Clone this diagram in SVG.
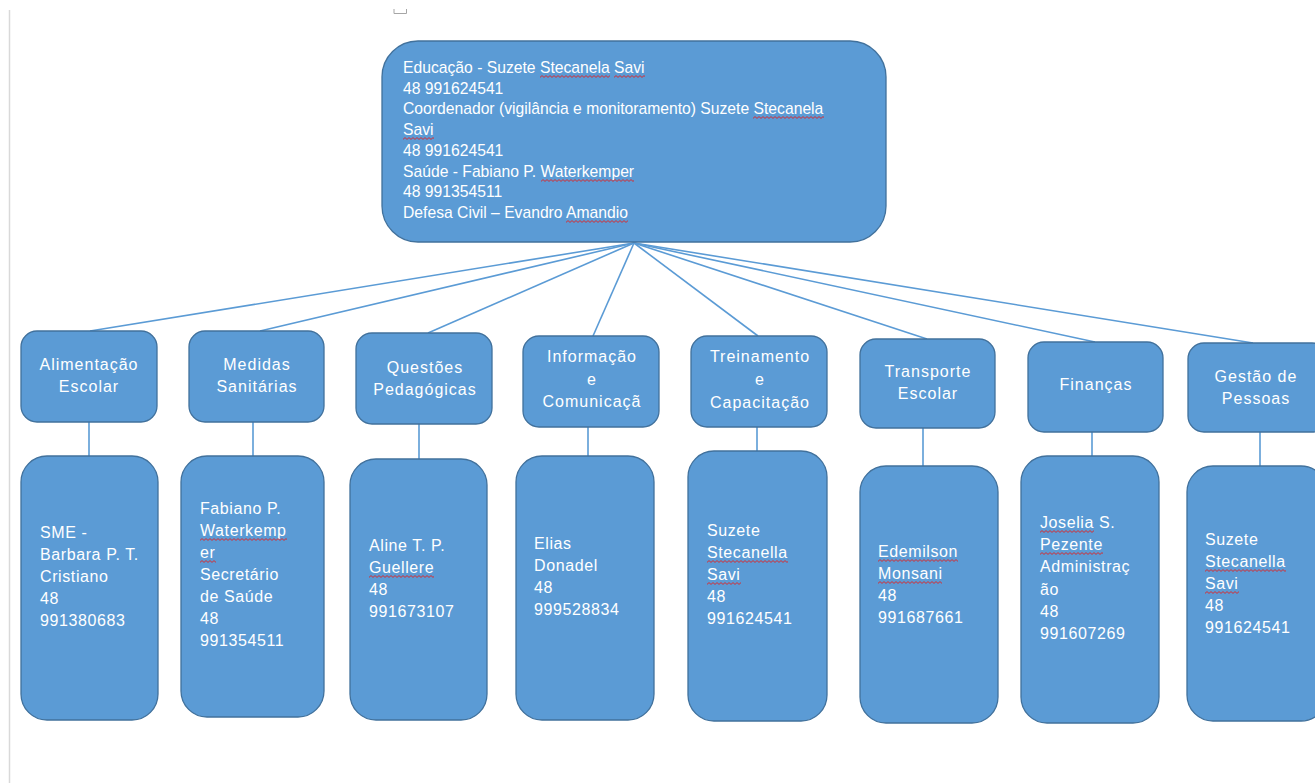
<svg xmlns="http://www.w3.org/2000/svg" width="1315" height="783" viewBox="0 0 1315 783">
<style>
.box{fill:#5b9bd5;stroke:#41719c;stroke-width:1.3}
.con{stroke:#5b9bd5;stroke-width:1.6;fill:none}
.t{font-family:"Liberation Sans",Arial,sans-serif;fill:#ffffff}
.top{font-size:15.7px}
.mid{font-size:16px;letter-spacing:1px;text-anchor:middle}
.bot{font-size:16px;letter-spacing:0.6px}
.sq{fill:url(#wave)}
</style>
<defs>
<pattern id="wave" patternUnits="userSpaceOnUse" width="4" height="3">
<path d="M0 2.4 L2 0.6 L4 2.4" fill="none" stroke="#e02020" stroke-width="0.9"/>
</pattern>
</defs>
<rect width="1315" height="783" fill="#ffffff"/>
<line x1="9.5" y1="10" x2="9.5" y2="783" stroke="#d9d9d9" stroke-width="1.5"/>
<path d="M394 9 V13.5 H406.5 V9" fill="none" stroke="#a6a6a6" stroke-width="1"/>

<g id="connectors">
<line class="con" x1="634" y1="243" x2="90" y2="331"/>
<line class="con" x1="634" y1="243" x2="260" y2="331"/>
<line class="con" x1="634" y1="243" x2="428" y2="333"/>
<line class="con" x1="634" y1="243" x2="593" y2="336"/>
<line class="con" x1="634" y1="243" x2="758" y2="336"/>
<line class="con" x1="634" y1="243" x2="927" y2="339"/>
<line class="con" x1="634" y1="243" x2="1095" y2="342"/>
<line class="con" x1="634" y1="243" x2="1253" y2="343"/>
<line class="con" x1="89" y1="422" x2="89" y2="456"/>
<line class="con" x1="253" y1="422" x2="253" y2="456"/>
<line class="con" x1="419" y1="424" x2="419" y2="459"/>
<line class="con" x1="588" y1="427" x2="588" y2="456"/>
<line class="con" x1="757" y1="427" x2="757" y2="451"/>
<line class="con" x1="923" y1="428" x2="923" y2="466"/>
<line class="con" x1="1092" y1="432" x2="1092" y2="456"/>
<line class="con" x1="1260" y1="432" x2="1260" y2="466"/>
</g>

<g id="root">
<rect class="box" x="382" y="41" width="504" height="201" rx="36" ry="36"/>
<text class="t top" x="403">
<tspan x="403" y="73">Educação - Suzete Stecanela Savi</tspan>
<tspan x="403" y="94">48 991624541</tspan>
<tspan x="403" y="114">Coordenador (vigilância e monitoramento) Suzete Stecanela</tspan>
<tspan x="403" y="135">Savi</tspan>
<tspan x="403" y="156">48 991624541</tspan>
<tspan x="403" y="177">Saúde - Fabiano P. Waterkemper</tspan>
<tspan x="403" y="197">48 991354511</tspan>
<tspan x="403" y="218">Defesa Civil – Evandro Amandio</tspan>
</text>
<rect class="sq" transform="translate(540,75)" width="70" height="3"/>
<rect class="sq" transform="translate(614,75)" width="31" height="3"/>
<rect class="sq" transform="translate(753,116)" width="71" height="3"/>
<rect class="sq" transform="translate(403,137)" width="31" height="3"/>
<rect class="sq" transform="translate(541,179)" width="93" height="3"/>
<rect class="sq" transform="translate(566,220)" width="62" height="3"/>
</g>

<g id="n1">
<rect class="box" x="21" y="331" width="136" height="91" rx="16"/>
<text class="t mid"><tspan x="89" y="370">Alimentação</tspan><tspan x="89" y="392">Escolar</tspan></text>
</g>
<g id="n2">
<rect class="box" x="189" y="331" width="135" height="91" rx="16"/>
<text class="t mid"><tspan x="257" y="370">Medidas</tspan><tspan x="257" y="392">Sanitárias</tspan></text>
</g>
<g id="n3">
<rect class="box" x="356" y="333" width="136" height="91" rx="16"/>
<text class="t mid"><tspan x="425" y="373">Questões</tspan><tspan x="425" y="395">Pedagógicas</tspan></text>
</g>
<g id="n4">
<rect class="box" x="523" y="336" width="136" height="91" rx="16"/>
<text class="t mid"><tspan x="592" y="362">Informação</tspan><tspan x="592" y="385">e</tspan><tspan x="592" y="407">Comunicaçã</tspan></text>
</g>
<g id="n5">
<rect class="box" x="691" y="336" width="136" height="91" rx="16"/>
<text class="t mid"><tspan x="760" y="362">Treinamento</tspan><tspan x="760" y="385">e</tspan><tspan x="760" y="408">Capacitação</tspan></text>
</g>
<g id="n6">
<rect class="box" x="860" y="339" width="135" height="89" rx="16"/>
<text class="t mid"><tspan x="928" y="377">Transporte</tspan><tspan x="928" y="399">Escolar</tspan></text>
</g>
<g id="n7">
<rect class="box" x="1028" y="342" width="135" height="90" rx="16"/>
<text class="t mid"><tspan x="1096" y="390">Finanças</tspan></text>
</g>
<g id="n8">
<rect class="box" x="1188" y="343" width="140" height="89" rx="16"/>
<text class="t mid"><tspan x="1256" y="382">Gestão de</tspan><tspan x="1256" y="404">Pessoas</tspan></text>
</g>

<g id="b1">
<rect class="box" x="21" y="456" width="137" height="264" rx="26"/>
<text class="t bot"><tspan x="40" y="538">SME -</tspan><tspan x="40" y="560">Barbara P. T.</tspan><tspan x="40" y="582">Cristiano</tspan><tspan x="40" y="604">48</tspan><tspan x="40" y="626">991380683</tspan></text>
</g>
<g id="b2">
<rect class="box" x="181" y="456" width="143" height="261" rx="26"/>
<text class="t bot"><tspan x="200" y="514">Fabiano P.</tspan><tspan x="200" y="536">Waterkemp</tspan><tspan x="200" y="558">er</tspan><tspan x="200" y="580">Secretário</tspan><tspan x="200" y="602">de Saúde</tspan><tspan x="200" y="624">48</tspan><tspan x="200" y="646">991354511</tspan></text>
<rect class="sq" transform="translate(200,538)" width="87" height="3"/>
<rect class="sq" transform="translate(200,560)" width="16" height="3"/>
</g>
<g id="b3">
<rect class="box" x="350" y="459" width="137" height="261" rx="26"/>
<text class="t bot"><tspan x="369" y="551">Aline T. P.</tspan><tspan x="369" y="573">Guellere</tspan><tspan x="369" y="595">48</tspan><tspan x="369" y="617">991673107</tspan></text>
<rect class="sq" transform="translate(369,575)" width="65" height="3"/>
</g>
<g id="b4">
<rect class="box" x="516" y="456" width="138" height="264" rx="26"/>
<text class="t bot"><tspan x="534" y="549">Elias</tspan><tspan x="534" y="571">Donadel</tspan><tspan x="534" y="593">48</tspan><tspan x="534" y="615">999528834</tspan></text>
</g>
<g id="b5">
<rect class="box" x="688" y="451" width="139" height="270" rx="26"/>
<text class="t bot"><tspan x="707" y="536">Suzete</tspan><tspan x="707" y="558">Stecanella</tspan><tspan x="707" y="580">Savi</tspan><tspan x="707" y="602">48</tspan><tspan x="707" y="624">991624541</tspan></text>
<rect class="sq" transform="translate(707,560)" width="81" height="3"/>
<rect class="sq" transform="translate(707,582)" width="34" height="3"/>
</g>
<g id="b6">
<rect class="box" x="860" y="466" width="138" height="257" rx="26"/>
<text class="t bot"><tspan x="878" y="557">Edemilson</tspan><tspan x="878" y="579">Monsani</tspan><tspan x="878" y="601">48</tspan><tspan x="878" y="623">991687661</tspan></text>
<rect class="sq" transform="translate(878,559)" width="80" height="3"/>
<rect class="sq" transform="translate(878,581)" width="64" height="3"/>
</g>
<g id="b7">
<rect class="box" x="1021" y="456" width="138" height="267" rx="26"/>
<text class="t bot"><tspan x="1040" y="528">Joselia S.</tspan><tspan x="1040" y="550">Pezente</tspan><tspan x="1040" y="572">Administraç</tspan><tspan x="1040" y="595">ão</tspan><tspan x="1040" y="617">48</tspan><tspan x="1040" y="639">991607269</tspan></text>
<rect class="sq" transform="translate(1040,530)" width="54" height="3"/>
<rect class="sq" transform="translate(1040,552)" width="63" height="3"/>
</g>
<g id="b8">
<rect class="box" x="1187" y="466" width="140" height="255" rx="26"/>
<text class="t bot"><tspan x="1205" y="545">Suzete</tspan><tspan x="1205" y="567">Stecanella</tspan><tspan x="1205" y="589">Savi</tspan><tspan x="1205" y="611">48</tspan><tspan x="1205" y="633">991624541</tspan></text>
<rect class="sq" transform="translate(1205,569)" width="81" height="3"/>
<rect class="sq" transform="translate(1205,591)" width="34" height="3"/>
</g>
</svg>
